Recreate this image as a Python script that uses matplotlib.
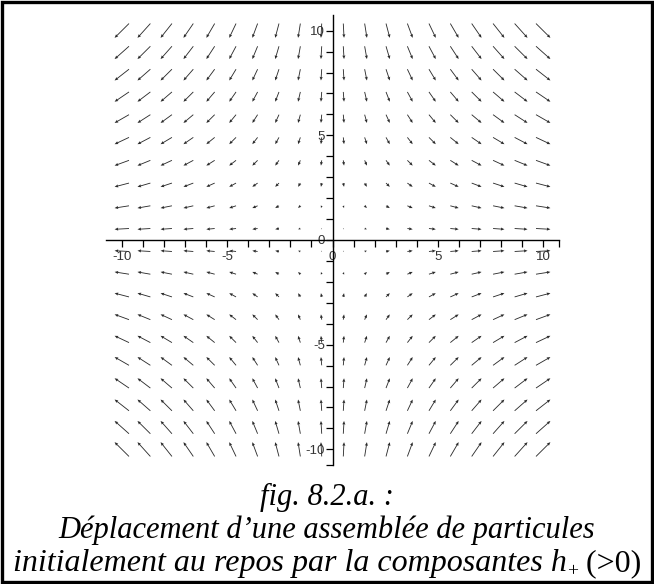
import matplotlib.pyplot as plt
import numpy as np
from matplotlib.patches import Rectangle

# Particle positions on the 20 x 20 grid covering [-10, 10]
grid = [-10.0, -8.95, -7.89, -6.84, -5.79, -4.74, -3.68, -2.63, -1.58, -0.53,
        0.53, 1.58, 2.63, 3.68, 4.74, 5.79, 6.84, 7.89, 8.95, 10.0]

tick_values = [-10, -5, 0, 5, 10]
tick_labels = ["-10", "-5", "0", "5", "10"]

caption_title = "fig. 8.2.a. :"
caption_line2 = "Déplacement d\u2019une assemblée de particules"
caption_line3 = ["initialement au repos par la composantes h", "+", " (>0)"]

# h+ polarisation: stretch along x, squeeze along y
X, Y = np.meshgrid(grid, grid)
U = X
V = -Y

# longest arrow a bit shorter than one grid step
step = grid[1] - grid[0]
scale = np.max(np.hypot(U, V)) / (0.92 * step)

fig = plt.figure(figsize=(6.54, 5.84), dpi=100)
ax = fig.add_axes([106 / 654, 119 / 584, 453 / 654, 450 / 584])

ax.quiver(X, Y, U, V, angles="xy", scale_units="xy", scale=scale,
          pivot="middle", color="#2a2a2a", width=0.0019,
          headwidth=3.6, headlength=4.2, headaxislength=3.8)

lim = 10.75
ax.set_xlim(-lim, lim)
ax.set_ylim(-lim, lim)

# Axes crossing at the origin
ax.spines["left"].set_position("zero")
ax.spines["bottom"].set_position("zero")
ax.spines["right"].set_visible(False)
ax.spines["top"].set_visible(False)
for s in ("left", "bottom"):
    ax.spines[s].set_linewidth(1.0)
    ax.spines[s].set_color("black")

ax.set_xticks(tick_values)
ax.set_xticklabels(tick_labels)
ax.set_yticks(tick_values)
ax.set_yticklabels(tick_labels)
ax.set_xticks([v for v in range(-10, 11) if v not in tick_values] + [lim], minor=True)
ax.set_yticks([v for v in range(-10, 11) if v not in tick_values] + [-lim], minor=True)

ax.tick_params(which="both", direction="out", length=5, width=0.9, color="black")
ax.tick_params(axis="x", which="major", pad=3)
ax.tick_params(axis="y", which="major", pad=0.5)
for lab in ax.get_xticklabels() + ax.get_yticklabels():
    lab.set_fontfamily("Liberation Sans")
    lab.set_fontsize(9.5)
    lab.set_color("#333333")

# Caption under the plot
cap_font = dict(family="Liberation Serif", fontsize=22)
fig.text(0.5, (584 - 505) / 584, caption_title, ha="center", va="baseline",
         style="italic", **cap_font)
fig.text(0.5, (584 - 538) / 584, caption_line2, ha="center", va="baseline",
         style="italic", **cap_font)

# last line: italic text, subscript "+", upright "(>0)" laid out side by side
base3 = (584 - 571) / 584
renderer = fig.canvas.get_renderer()
t1 = fig.text(0, base3, caption_line3[0], va="baseline", style="italic",
              family="Liberation Serif", fontsize=23)
t2 = fig.text(0, base3 - 5 / 584, caption_line3[1], va="baseline",
              family="Liberation Serif", fontsize=14)
t3 = fig.text(0, base3, caption_line3[2], va="baseline",
              family="Liberation Serif", fontsize=23)
widths = [t.get_window_extent(renderer).width / 654 for t in (t1, t2, t3)]
x0 = 0.5 - sum(widths) / 2
for t, w in zip((t1, t2, t3), widths):
    t.set_x(x0)
    x0 += w

# Frame around the whole figure
fig.add_artist(Rectangle((0.003, 0.004), 0.994, 0.992, transform=fig.transFigure,
                         fill=False, lw=2.4, ec="black"))

plt.savefig("out.png", dpi=100)
